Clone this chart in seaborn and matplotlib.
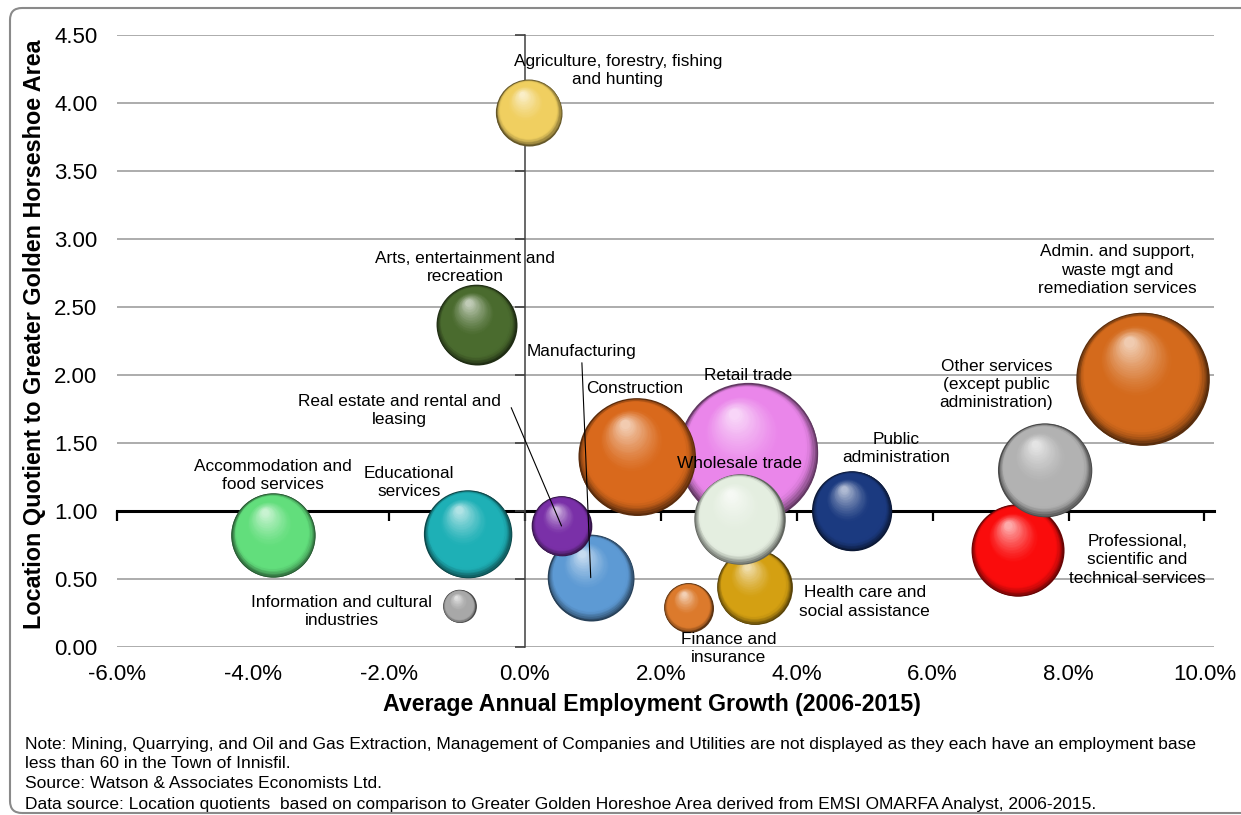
import matplotlib
matplotlib.use("Agg")
import matplotlib.pyplot as plt
import matplotlib.transforms as mtransforms
from matplotlib.patches import FancyBboxPatch
from matplotlib.colors import to_rgb
import numpy as np
import pandas as pd
import seaborn as sns

# data, in drawing order (later rows sit on top)
industries = [
    "Admin. and support,\nwaste mgt and\nremediation services",
    "Retail trade",
    "Construction",
    "Health care and\nsocial assistance",
    "Wholesale trade",
    "Manufacturing",
    "Real estate and rental and\nleasing",
    "Professional,\nscientific and\ntechnical services",
    "Other services\n(except public\nadministration)",
    "Public\nadministration",
    "Finance and\ninsurance",
    "Agriculture, forestry, fishing\nand hunting",
    "Arts, entertainment and\nrecreation",
    "Accommodation and\nfood services",
    "Educational\nservices",
    "Information and cultural\nindustries",
]
growth = [9.09, 3.29, 1.65, 3.38, 3.16, 0.97, 0.54, 7.25, 7.65, 4.81, 2.41, 0.06, -0.71, -3.70, -0.84, -0.96]
lq = [1.97, 1.43, 1.40, 0.44, 0.94, 0.51, 0.89, 0.71, 1.30, 1.00, 0.29, 3.93, 2.37, 0.82, 0.83, 0.30]
employment = [4400, 4850, 3420, 1400, 2050, 1850, 890, 2120, 2190, 1580, 600, 1090, 1600, 1770, 1920, 270]
colors = ["#d46a1c", "#ea86ea", "#d9691c", "#d4a012", "#e4eee0", "#5d9ad4", "#7a30a8", "#fa0c0c",
          "#b2b2b2", "#1b3a80", "#dc7a2c", "#f0cf60", "#4a6b2e", "#62de7c", "#1eb0b6", "#a8a8a8"]

# label placement (text centre, data units) and optional leader start
label_xy = [(8.72, 2.77), (3.28, 2.00), (1.62, 1.90), (5.00, 0.33), (3.16, 1.35), (0.84, 2.17),
            (-1.84, 1.74), (9.01, 0.64), (6.94, 1.93), (5.47, 1.46), (3.00, -0.01), (1.37, 4.24),
            (-0.88, 2.79), (-3.71, 1.26), (-1.70, 1.21), (-2.69, 0.26)]
leaders = {5: (0.84, 2.09), 6: (-0.20, 1.76)}

notes = [
    "Note: Mining, Quarrying, and Oil and Gas Extraction, Management of Companies and Utilities are not displayed as they each have an employment base",
    "less than 60 in the Town of Innisfil.",
    "Source: Watson & Associates Economists Ltd.",
    "Data source: Location quotients  based on comparison to Greater Golden Horeshoe Area derived from EMSI OMARFA Analyst, 2006-2015.",
]

sns.set_style("white")
plt.rcParams["font.family"] = ["Liberation Sans", "DejaVu Sans"]
plt.rcParams["text.color"] = "black"
plt.rcParams["xtick.color"] = "black"
plt.rcParams["ytick.color"] = "black"
plt.rcParams["axes.labelcolor"] = "black"

W, H = 1241, 815
fig = plt.figure(figsize=(W / 100, H / 100), dpi=100)
ax = fig.add_axes([117 / W, 1 - 647 / H, (1214 - 117) / W, (647 - 35) / H])

xmin, xmax, ymin, ymax = -6, 10.14, 0, 4.5

df = pd.DataFrame({"industry": industries, "growth": growth, "lq": lq, "employment": employment})

def shade(c, u):
    dark = c * 0.42
    light = c + (1 - c) * 0.65
    if u > 0.86:
        f = ((u - 0.86) / 0.14) ** 1.6
        return c * (1 - f) + dark * f
    if u > 0.55:
        return c
    f = ((0.55 - u) / (0.55 - 0.08)) ** 1.3
    return c * (1 - f) + light * f

rim = {ind: tuple(np.array(to_rgb(c)) * 0.42) for ind, c in zip(industries, colors)}
k = (2 * 0.72) ** 2  # marker area per employment unit (radius_px^2 == employment)
emax = max(employment)
sns.scatterplot(data=df, x="growth", y="lq", hue="industry", palette=rim,
                size="employment", sizes=(0, k * emax), size_norm=(0, emax),
                legend=False, edgecolor="none", linewidth=0, ax=ax, zorder=2)

# sphere shading
N = 44
for i, row in df.iterrows():
    R = np.sqrt(k * row.employment) / 2
    base = np.array(to_rgb(colors[i]))
    for j in range(N):
        u = 1 - 0.92 * j / (N - 1)
        r = R * u
        shift = R - r
        tr = mtransforms.offset_copy(ax.transData, fig=fig, x=-0.22 * shift, y=0.6 * shift, units="points")
        ax.scatter([row.growth], [row.lq], s=(2 * r) ** 2, color=shade(base, u),
                   transform=tr, linewidths=0, zorder=3 + i * 0.05 + j * 0.001)

for i, row in df.iterrows():
    tx, ty = label_xy[i]
    ax.text(tx, ty, row.industry, ha="center", va="center", fontsize=12.4,
            linespacing=1.28, color="black", zorder=10)
    if i in leaders:
        ax.annotate("", xy=(row.growth, row.lq), xytext=leaders[i],
                    arrowprops=dict(arrowstyle="-", color="black", lw=0.8, shrinkA=0, shrinkB=0),
                    zorder=9)

ax.set_xlim(xmin, xmax)
ax.set_ylim(ymin, ymax)
xt = np.arange(-6, 10.1, 2)
yt = np.arange(0, 4.51, 0.5)
ax.set_xticks(xt)
ax.set_xticklabels([f"{v:.1f}%" for v in xt])
ax.set_yticks(yt)
ax.set_yticklabels([f"{v:.2f}" for v in yt])
ax.tick_params(axis="both", length=0, labelsize=16, labelcolor="black")
ax.tick_params(axis="x", pad=12)
ax.tick_params(axis="y", pad=14)
ax.set_xlabel("")
ax.set_ylabel("")
for s in ax.spines.values():
    s.set_visible(False)
ax.set_axisbelow(True)
ax.yaxis.grid(True, color="#a6a6a6", lw=1.3)
ax.xaxis.grid(False)

# crossing axes at y = 1 and x = 0
secx = ax.secondary_xaxis((1 - ymin) / (ymax - ymin))
secx.set_xticks(xt)
secx.tick_params(direction="out", length=7, width=1.6, labelbottom=False, labeltop=False, color="black")
secx.spines["bottom"].set_linewidth(2.2)
secx.spines["bottom"].set_color("black")
secx.set_zorder(0.9)

secy = ax.secondary_yaxis((0 - xmin) / (xmax - xmin))
secy.set_yticks(yt)
secy.tick_params(direction="out", length=7, width=1.2, labelleft=False, labelright=False, color="#404040")
secy.spines["left"].set_linewidth(1.1)
secy.spines["left"].set_color("#404040")
secy.set_zorder(0.9)

fig.text(652 / W, 1 - 705 / H, "Average Annual Employment Growth (2006-2015)", ha="center", va="center",
         fontsize=16.7, fontweight="bold")
fig.text(35 / W, 1 - 334 / H, "Location Quotient to Greater Golden Horseshoe Area", ha="center", va="center",
         rotation=90, fontsize=16.8, fontweight="bold")

for n, line in enumerate(notes):
    fig.text(25 / W, 1 - (744 + 20 * n) / H, line, ha="left", va="center", fontsize=12.5)

frame = FancyBboxPatch((0.10, 0.02), 12.6, 8.05, boxstyle="round,pad=0,rounding_size=0.12",
                       transform=fig.dpi_scale_trans, fill=False, ec="#8a8a8a", lw=1.5)
fig.patches.append(frame)

fig.savefig("out.png", dpi=100)
